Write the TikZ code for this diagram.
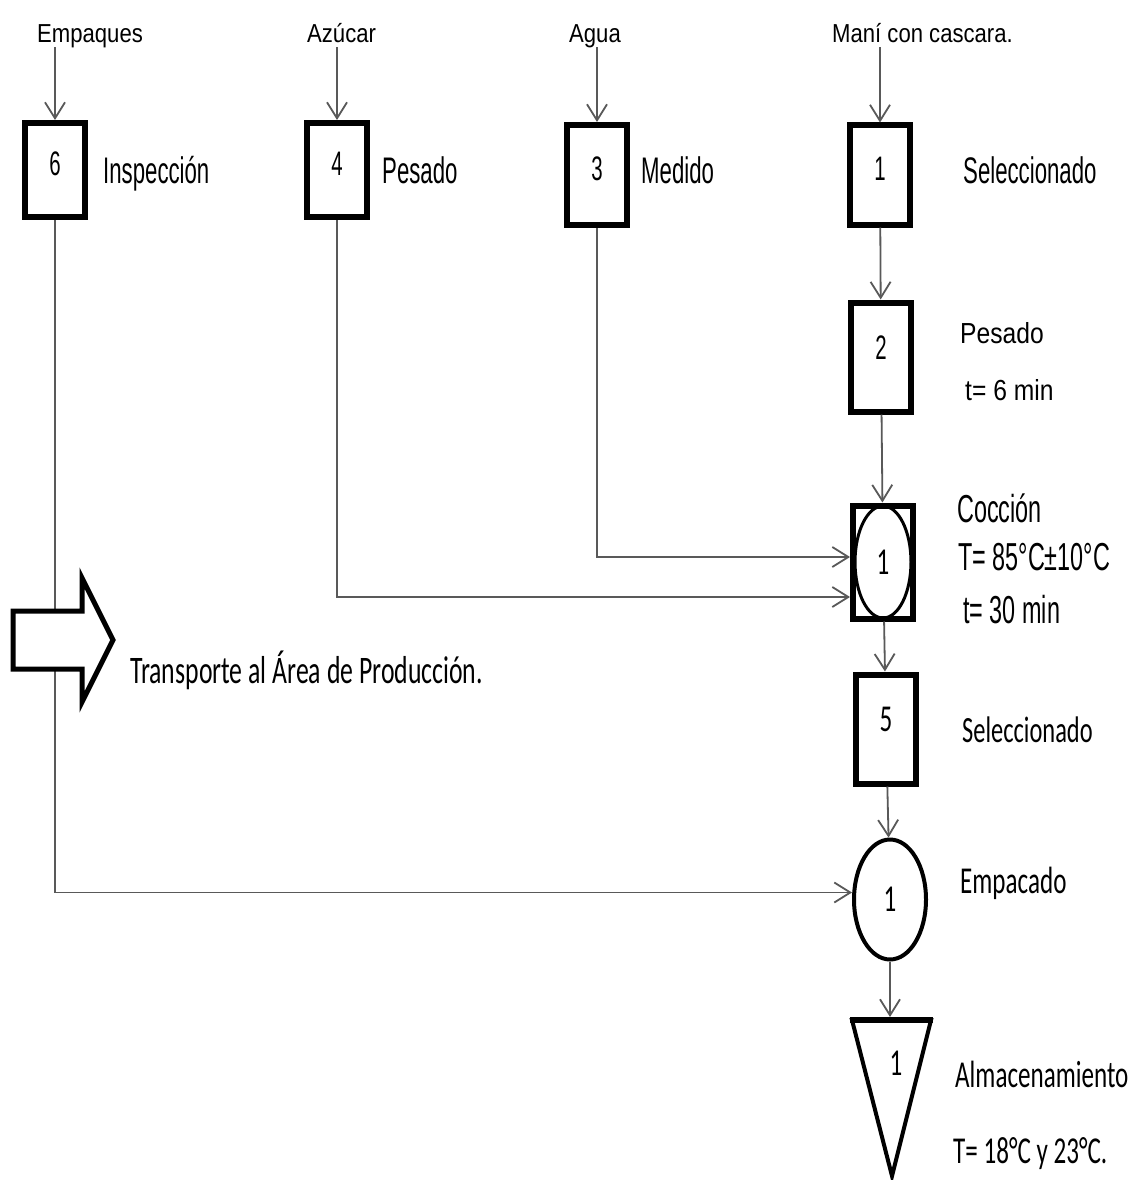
\documentclass[tikz,border=0pt]{standalone}
\usepackage{fontspec}
\setmainfont{Liberation Sans}
\newfontfamily\narrowfont[FakeStretch=0.85]{Liberation Sans}
\newfontfamily\condfont[FakeStretch=0.6]{Liberation Sans}
\newfontfamily\calfont[FakeStretch=0.66]{Carlito}
\usetikzlibrary{shapes.geometric, arrows.meta, positioning, calc}

\begin{document}
\begin{tikzpicture}[x=1pt, y=-1pt,
    box/.style={draw, line width=6pt, minimum width=60pt, minimum height=97pt, inner sep=0pt, text depth=12pt, font=\condfont\fontsize{34}{34}\selectfont},
    opcirc/.style={ellipse, draw, line width=4pt, minimum width=72pt, minimum height=120pt, inner sep=0pt},
    flow/.style={-{Straight Barb[length=16pt,width=20pt]}, line width=1.8pt, draw=black!65},
    toplbl/.style={anchor=base west, inner sep=2pt, text depth=0.2em, font=\narrowfont\fontsize{26}{26}\selectfont},
    sidelbl/.style={anchor=base west, inner sep=0pt, font=\condfont\fontsize{37}{37}\selectfont},
    callbl/.style={anchor=base west, inner sep=0pt, font=\calfont\fontsize{38}{38}\selectfont},
    calnum/.style={font=\calfont\fontsize{38}{38}\selectfont}
]
    \fill[white] (0,0) rectangle (1138,1180);
    \useasboundingbox (0,0) rectangle (1138,1180);

    % materias primas
    \node (empq) [toplbl] at (35,43) {Empaques};
    \node (azuc) [toplbl] at (305,43) {Azúcar};
    \node (agua) [toplbl] at (567,43) {Agua};
    \node (mani) [toplbl] at (830,43) {Maní con cascara.};

    \node (b6) [box, minimum height=94pt] at (55,170) {6};
    \node (b4) [box, minimum height=94pt] at (337,170) {4};
    \node (b3) [box, minimum height=100pt] at (597,175) {3};
    \node (b1) [box, minimum height=99pt] at (880,175) {1};
    \node (b2) [box, minimum height=109pt, text depth=18pt, below=72pt of b1, xshift=1pt] {2};
    \node (coc) [box, minimum height=113pt, text depth=0pt, below=88pt of b2, xshift=2pt, calnum] {1};
    \node (cocE) [ellipse, draw, line width=3pt, minimum width=56pt, minimum height=112pt] at (coc) {};
    \node (b5) [box, minimum height=109pt, text depth=20pt, below=50pt of coc, xshift=3pt, calnum] {5};
    \node (emp) [opcirc, below=51pt of b5, xshift=4pt, calnum] {1};

    % almacenamiento
    \coordinate (almTop) at (892,1017);
    \draw[line width=4pt] (852,1020) -- (931,1020) -- (892,1176) -- cycle;
    \draw[line width=6pt] (850,1020) -- (933,1020);
    \node (alm) [calnum] at (896,1063) {1};

    % etiquetas
    \node (tInsp) [sidelbl] at (103,183) {Inspección};
    \node (tPes4) [sidelbl] at (382,183) {Pesado};
    \node (tMed) [sidelbl] at (641,183) {Medido};
    \node (tSel1) [sidelbl] at (963,183) {Seleccionado};
    \node (tPes2) [toplbl, inner sep=0pt, font=\narrowfont\fontsize{29}{29}\selectfont] at (960,343) {Pesado};
    \node (tT6) [toplbl, inner sep=0pt, font=\narrowfont\fontsize{29}{29}\selectfont] at (965,400) {t= 6 min};
    \node (tCoc) [sidelbl, font=\condfont\fontsize{39}{39}\selectfont] at (957,522) {Cocción};
    \node (tT85) [sidelbl, font=\condfont\fontsize{39}{39}\selectfont] at (958,570) {T= 85°C±10°C};
    \node (tT30) [sidelbl, font=\condfont\fontsize{39}{39}\selectfont] at (963,623) {t= 30 min};
    \node (tSel5) [callbl, font=\calfont\fontsize{37}{37}\selectfont] at (962,742) {Seleccionado};
    \node (tEmp) [callbl] at (960,893) {Empacado};
    \node (tAlm) [callbl] at (955,1087) {Almacenamiento};
    \node (tAlmT) [callbl] at (953,1163) {T= 18°C y 23°C.};
    \node (tTrans) [callbl, font=\calfont\fontsize{39}{39}\selectfont] at (130,683) {Transporte al Área de Producción.};

    \draw[flow] (empq.south -| b6.north) -- (b6.north);
    \draw[flow] (azuc.south -| b4.north) -- (b4.north);
    \draw[flow] (agua.south -| b3.north) -- (b3.north);
    \draw[flow] (mani.south -| b1.north) -- (b1.north);
    \draw[flow] (b1) -- (b2);
    \draw[flow] (b2) -- (coc);
    \draw[flow] (coc) -- (b5);
    \draw[flow] (b5) -- (emp);
    \draw[flow] (emp) -- (emp.south |- almTop);
    \draw[flow] (b3.south) |- ([yshift=5pt]coc.west);
    \draw[flow] (b4.south) |- ([yshift=-35pt]coc.west);
    \draw[flow] (b6.south) |- ([yshift=7pt]emp.west);

    % transporte
    \draw[line width=5pt, fill=white, line join=miter] (13,611) -- (82,611) -- (82,578) -- (113,640) -- (82,702) -- (82,669) -- (13,669) -- cycle;
\end{tikzpicture}
\end{document}
